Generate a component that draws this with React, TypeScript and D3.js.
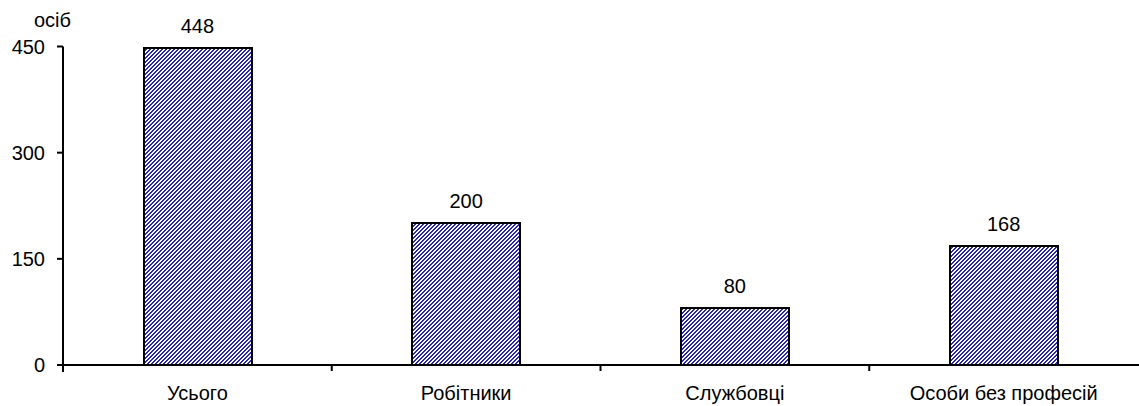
import React from 'react';
import * as d3 from 'd3';

const categories = ['Усього', 'Робітники', 'Службовці', 'Особи без професій'];
const values = [448, 200, 80, 168];
const yTicks = [0, 150, 300, 450];
const yUnit = 'осіб';

const W = 1139;
const H = 406;
const margin = { top: 46.5, right: 1, bottom: 41, left: 63 };

// pixel cells of the 4x4 "/" hatch tile
const hatchCells = [
  [2, 0], [3, 0],
  [1, 1], [2, 1],
  [0, 2], [1, 2],
  [0, 3], [3, 3],
];

export default function App() {
  const x = d3
    .scaleBand<string>()
    .domain(categories)
    .range([margin.left, W - margin.right])
    .paddingInner(0.6)
    .paddingOuter(0.3);
  const y = d3.scaleLinear().domain([0, 450]).range([H - margin.bottom, margin.top]);

  const step = x.step();
  const font = 'Liberation Sans, Arial, sans-serif';
  const fs = 20;

  return (
    <svg
      width={W}
      height={H}
      style={{ position: 'absolute', left: 0, top: 0, background: '#fff' }}
      fontFamily={font}
    >
      <defs>
        <pattern id="hatch" width={4} height={4} patternUnits="userSpaceOnUse">
          <rect width={4} height={4} fill="#fff" />
          {hatchCells.map(([cx, cy], k) => (
            <rect key={k} x={cx} y={cy} width={1} height={1} fill="#2424c8" shapeRendering="crispEdges" />
          ))}
        </pattern>
      </defs>

      {/* bars */}
      {categories.map((c, i) => (
        <g key={c}>
          <rect
            x={Math.round(x(c)!)}
            y={Math.round(y(values[i]))}
            width={Math.round(x.bandwidth())}
            height={Math.round(y(0)) - Math.round(y(values[i]))}
            fill="url(#hatch)"
            stroke="#000"
            strokeWidth={2}
          />
          <text
            x={x(c)! + x.bandwidth() / 2}
            y={y(values[i]) - 15}
            textAnchor="middle"
            fontSize={fs}
          >
            {values[i]}
          </text>
          <text x={x(c)! + x.bandwidth() / 2} y={H - 6} textAnchor="middle" fontSize={fs}>
            {c}
          </text>
        </g>
      ))}

      {/* y axis */}
      <line x1={margin.left} x2={margin.left} y1={y(450)} y2={y(0) + 7} stroke="#000" strokeWidth={2} />
      {yTicks.map((t) => (
        <g key={t}>
          <line x1={margin.left - 6} x2={margin.left} y1={y(t)} y2={y(t)} stroke="#000" strokeWidth={2} />
          <text x={margin.left - 18} y={y(t) + 7} textAnchor="end" fontSize={fs}>
            {t}
          </text>
        </g>
      ))}
      <text x={34} y={27} fontSize={fs}>
        {yUnit}
      </text>

      {/* x axis */}
      <line x1={margin.left - 6} x2={W} y1={y(0)} y2={y(0)} stroke="#000" strokeWidth={2} />
      {categories.slice(1).map((c, i) => (
        <line
          key={c}
          x1={margin.left + step * (i + 1)}
          x2={margin.left + step * (i + 1)}
          y1={y(0)}
          y2={y(0) + 6}
          stroke="#000"
          strokeWidth={2}
        />
      ))}
    </svg>
  );
}
